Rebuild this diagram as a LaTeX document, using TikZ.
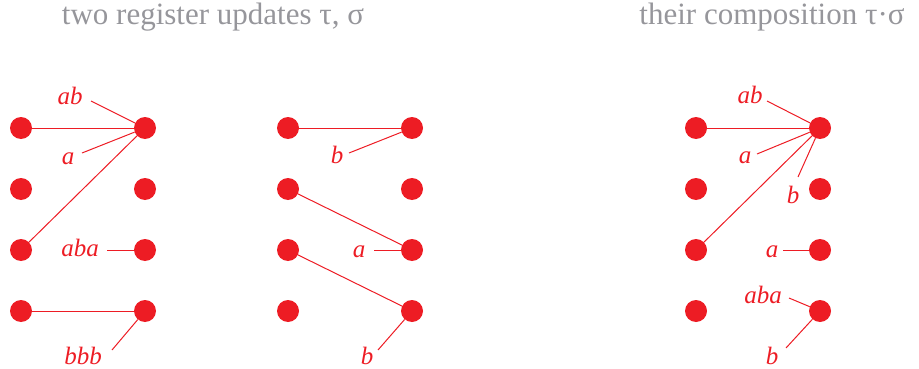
\documentclass[tikz,border=0pt]{standalone}
\usepackage{fontspec}
\setmainfont{Liberation Serif}
\definecolor{dotred}{RGB}{237,28,36}
\definecolor{titlegray}{RGB}{150,150,155}
\begin{document}
\begin{tikzpicture}[x=1pt,y=-1pt,
  dot/.style={circle,fill=dotred,draw=none,inner sep=0pt,minimum size=22pt},
  edge/.style={draw=dotred,line width=1pt},
  lab/.style={text=dotred,font=\fontsize{25}{25}\selectfont\itshape,anchor=base,inner sep=0pt},
  ttl/.style={text=titlegray,font=\fontsize{31}{31}\selectfont,anchor=base,inner sep=0pt}]
\useasboundingbox (0,0) rectangle (919,369);
% titles
\node[ttl] (t1) at (213,25) {two register updates τ, σ};
\node[ttl] (t2) at (772,25) {their composition τ·σ};
% dots
\foreach \n/\y in {1/128,2/189,3/250,4/311}{
  \node[dot] (A\n) at (21,\y) {};
  \node[dot] (B\n) at (145,\y) {};
  \node[dot] (C\n) at (288,\y) {};
  \node[dot] (D\n) at (412,\y) {};
  \node[dot] (E\n) at (696,\y) {};
  \node[dot] (F\n) at (820,\y) {};
}
% diagram 1
\draw[edge] (A1) -- (B1);
\draw[edge] (A3) -- (B1);
\draw[edge] (A4) -- (B4);
\node[lab] (l1ab) at (70,105) {ab};
\coordinate (c1ab) at (91,101);
\draw[edge] (c1ab) -- (B1);
\node[lab] (l1a) at (68,164) {a};
\coordinate (c1a) at (82,153);
\draw[edge] (c1a) -- (B1);
\node[lab] (l1aba) at (80,256) {aba};
\coordinate (c1aba) at (107,250);
\draw[edge] (c1aba) -- (B3);
\node[lab] (l1bbb) at (83,364) {bbb};
\coordinate (c1bbb) at (112,350);
\draw[edge] (c1bbb) -- (B4);
% diagram 2
\draw[edge] (C1) -- (D1);
\draw[edge] (C2) -- (D3);
\draw[edge] (C3) -- (D4);
\node[lab] (l2b) at (337,163) {b};
\coordinate (c2b) at (349,153);
\draw[edge] (c2b) -- (D1);
\node[lab] (l2a) at (359,257) {a};
\coordinate (c2a) at (374,250);
\draw[edge] (c2a) -- (D3);
\node[lab] (l2bb) at (367,364) {b};
\coordinate (c2bb) at (378,350);
\draw[edge] (c2bb) -- (D4);
% diagram 3
\draw[edge] (E1) -- (F1);
\draw[edge] (E3) -- (F1);
\node[lab] (l3ab) at (750,103) {ab};
\coordinate (c3ab) at (767,101);
\draw[edge] (c3ab) -- (F1);
\node[lab] (l3a) at (745,163) {a};
\coordinate (c3a) at (757,154);
\draw[edge] (c3a) -- (F1);
\node[lab] (l3b) at (793,203) {b};
\coordinate (c3b) at (798,177);
\draw[edge] (c3b) -- (F1);
\node[lab] (l3a2) at (772,257) {a};
\coordinate (c3a2) at (783,250);
\draw[edge] (c3a2) -- (F3);
\node[lab] (l3aba) at (763,303) {aba};
\coordinate (c3aba) at (789,298);
\draw[edge] (c3aba) -- (F4);
\node[lab] (l3bb) at (772,364) {b};
\coordinate (c3bb) at (786,348);
\draw[edge] (c3bb) -- (F4);
\end{tikzpicture}
\end{document}
